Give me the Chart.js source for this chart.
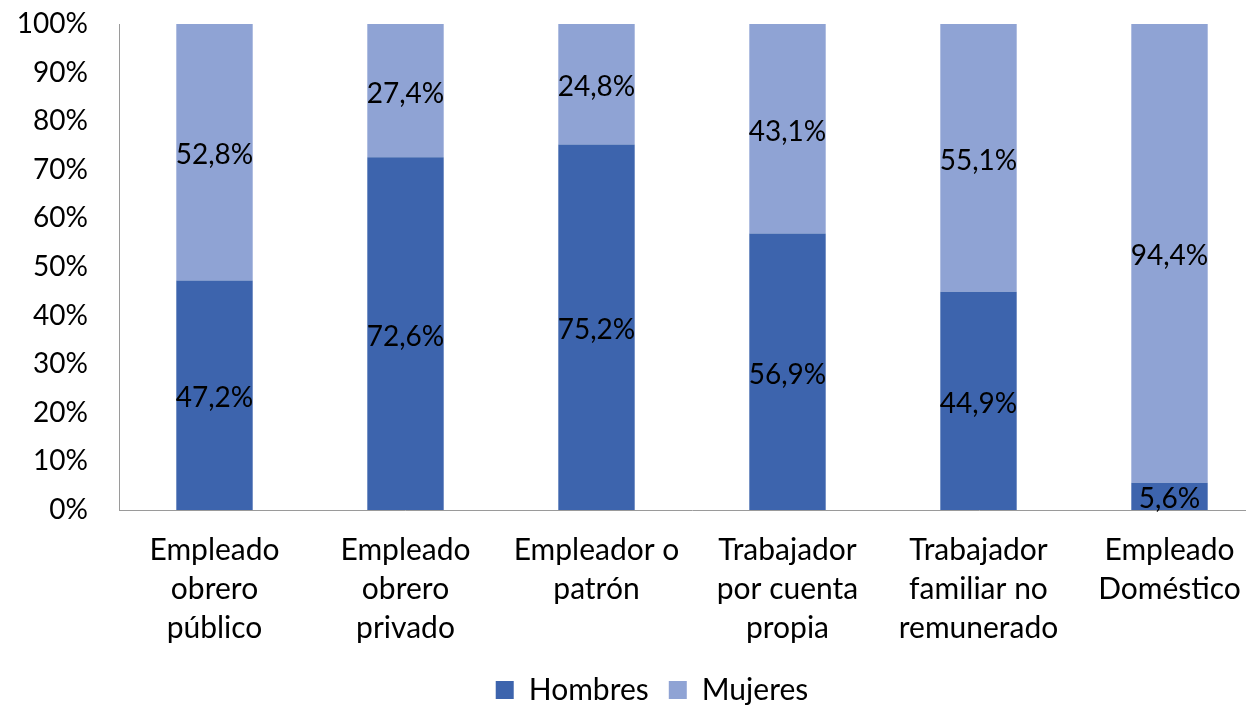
<!DOCTYPE html>
<html>
<head>
<meta charset="utf-8">
<script src="https://cdn.jsdelivr.net/npm/chart.js@4/dist/chart.umd.min.js"></script>
<style>
  html, body { margin: 0; padding: 0; overflow: hidden; background: #fff; }
  #wrap { position: absolute; left: 0; top: 0; width: 1304px; height: 705px; }
</style>
</head>
<body>
<div id="wrap"><canvas id="c" width="1304" height="705"></canvas></div>
<script>
const categories = [
  ["Empleado", "obrero", "público"],
  ["Empleado", "obrero", "privado"],
  ["Empleador o", "patrón"],
  ["Trabajador", "por cuenta", "propia"],
  ["Trabajador", "familiar no", "remunerado"],
  ["Empleado", "Doméstico"]
];
const hombres = [47.2, 72.6, 75.2, 56.9, 44.9, 5.6];
const mujeres = [52.8, 27.4, 24.8, 43.1, 55.1, 94.4];
const yTicks = [0, 10, 20, 30, 40, 50, 60, 70, 80, 90, 100];

const FONT = "Lato, 'Open Sans', sans-serif";
const FS = 28;
const AFS = 30;
const YFS = 28;

const fmt = v => v.toFixed(1).replace('.', ',') + '%';

const labelPlugin = {
  id: 'segLabels',
  afterDatasetsDraw(chart) {
    const ctx = chart.ctx;
    ctx.save();
    ctx.font = FS + 'px ' + FONT;
    ctx.fillStyle = '#000';
    ctx.textAlign = 'center';
    ctx.textBaseline = 'middle';
    chart.data.datasets.forEach((ds, di) => {
      const meta = chart.getDatasetMeta(di);
      meta.data.forEach((bar, i) => {
        const p = bar.getProps(['x', 'y', 'base'], true);
        ctx.fillText(fmt(ds.data[i]), p.x, (p.y + p.base) / 2 + 3);
      });
    });
    ctx.restore();
  }
};

const legendShift = {
  id: 'legendShift',
  afterLayout(chart) {
    const lg = chart.legend;
    if (!lg) return;
    lg.left += 19.5; lg.right += 19.5;
    lg.top += 10; lg.bottom += 10;
  }
};

new Chart(document.getElementById('c'), {
  type: 'bar',
  data: {
    labels: categories,
    datasets: [
      { label: 'Hombres', data: hombres, backgroundColor: '#3D64AD', barPercentage: 0.4, categoryPercentage: 1 },
      { label: 'Mujeres', data: mujeres, backgroundColor: '#8FA3D4', barPercentage: 0.4, categoryPercentage: 1 }
    ]
  },
  options: {
    responsive: false,
    devicePixelRatio: 1,
    animation: false,
    layout: { padding: { left: 0, right: 39, top: 24, bottom: 0 } },
    plugins: {
      legend: {
        position: 'bottom',
        labels: {
          boxWidth: 18, boxHeight: 18, color: '#000',
          font: { family: FONT, size: AFS }, padding: 20
        }
      },
      tooltip: { enabled: false }
    },
    scales: {
      x: {
        stacked: true,
        afterFit: s => { s.height = 135; },
        grid: { display: false, drawTicks: false },
        border: { display: true, color: '#9a9a9a', width: 1 },
        ticks: { color: '#000', font: { family: FONT, size: AFS, lineHeight: 1.3 }, padding: 21, maxRotation: 0, autoSkip: false }
      },
      y: {
        stacked: true,
        min: 0, max: 100,
        afterBuildTicks: s => { s.ticks = yTicks.map(v => ({ value: v })); },
        afterFit: s => { s.width = 119; s.paddingTop = 0; s.paddingBottom = 0; },
        grid: { display: false, drawTicks: false },
        border: { display: true, color: '#9a9a9a', width: 1 },
        ticks: { color: '#000', font: { family: FONT, size: YFS }, padding: 31, callback: v => v + '%' }
      }
    }
  },
  plugins: [labelPlugin, legendShift]
});
</script>
</body>
</html>
